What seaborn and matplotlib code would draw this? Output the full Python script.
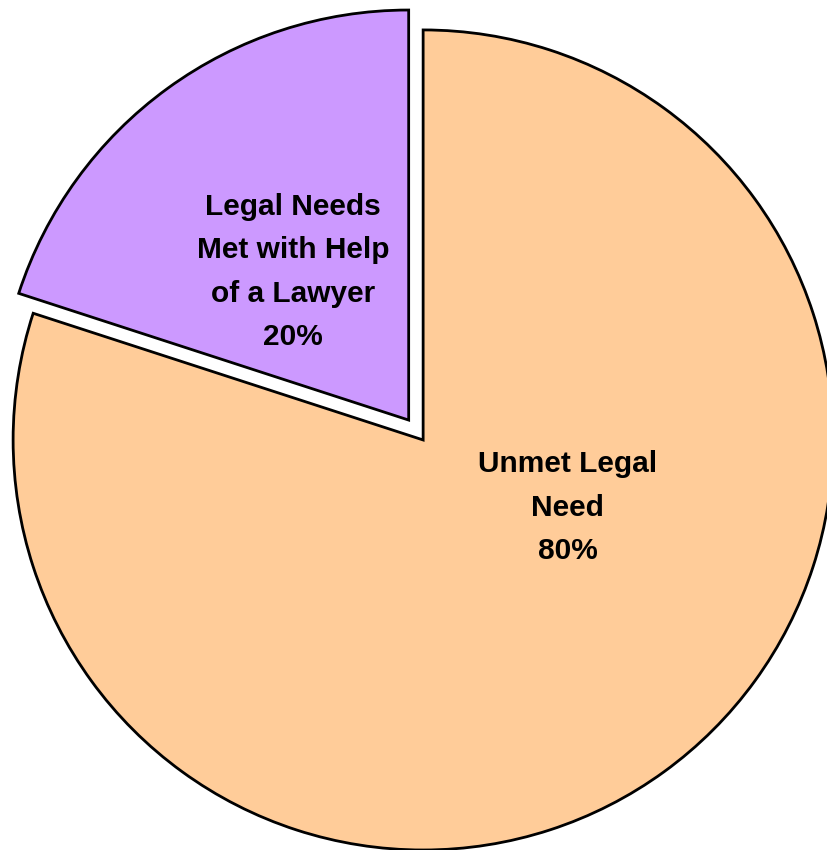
import matplotlib
matplotlib.use("Agg")
import matplotlib.pyplot as plt
import seaborn as sns

# data
labels = ["Legal Needs\nMet with Help\nof a Lawyer", "Unmet Legal\nNeed"]
shares = [20, 80]
colors = ["#CC99FF", "#FFCC99"]
explode = [0.06, 0.0]

# where the labels sit (data units, pie radius = 1)
label_pos = [(-0.318, 0.41), (0.352, -0.165)]

sns.set_theme(style="white")
plt.rcParams["font.family"] = ["Liberation Sans", "DejaVu Sans"]

fig = plt.figure(figsize=(8.27, 8.5), dpi=100)
ax = fig.add_axes([0, 0, 1, 1])

wedges, _ = ax.pie(shares, colors=colors, explode=explode, startangle=90,
                   counterclock=True, radius=1.0,
                   wedgeprops={"edgecolor": "black", "linewidth": 2})

for (x, y), lab, val in zip(label_pos, labels, shares):
    ax.text(x, y, f"{lab}\n{val}%", ha="center", va="center",
            fontsize=21.5, fontweight="bold", color="black", linespacing=1.7)

ax.set_xlim(-1.032, 0.985)
ax.set_ylim(-1.0, 1.073)
ax.set_aspect("auto")
ax.axis("off")

fig.savefig("out.png", dpi=100)
